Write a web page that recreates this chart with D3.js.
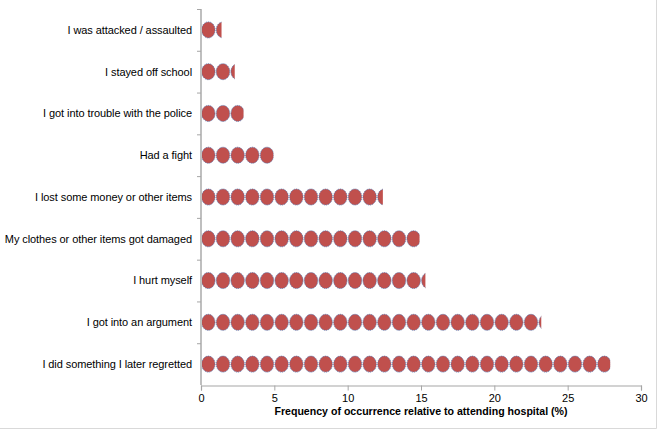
<!DOCTYPE html>
<html>
<head>
<meta charset="utf-8">
<script src="https://cdn.jsdelivr.net/npm/d3@7"></script>
<style>
  body { margin: 0; background: #fff; }
  svg { display: block; font-family: "Liberation Sans", Arial, sans-serif; }
</style>
</head>
<body>
<div id="chart"></div>
<script>
// Categories top to bottom, values in %
const categories = [
  'I was attacked / assaulted',
  'I stayed off school',
  'I got into trouble with the police',
  'Had a fight',
  'I lost some money or other items',
  'My clothes or other items got damaged',
  'I hurt myself',
  'I got into an argument',
  'I did something I later regretted'
];
const values = [1.4, 2.3, 2.9, 4.95, 12.4, 14.9, 15.3, 23.2, 27.9];
const xTicks = [0, 5, 10, 15, 20, 25, 30];
const xTitle = 'Frequency of occurrence relative to attending hospital (%)';

const width = 658;
const height = 430;
const margin = { top: 9, right: 17, bottom: 45, left: 201 };

const svg = d3.select('#chart')
  .append('svg')
  .attr('width', width)
  .attr('height', height);

// faint chart border (only right / bottom visible in the original)
svg.append('path')
  .attr('d', `M${width - 1.5},0V${height - 1.5}H0`)
  .attr('fill', 'none')
  .attr('stroke', '#d9d9d9');

const x = d3.scaleLinear()
  .domain([0, 30])
  .range([margin.left, width - margin.right]);

const y = d3.scaleBand()
  .domain(categories)
  .range([margin.top, height - margin.bottom]);

const unit = x(1) - x(0);

// Rows of icons, each icon = 1 %, last one clipped at the value
const defs = svg.append('defs');
const rows = svg.append('g');

categories.forEach((c, i) => {
  const v = values[i];
  const cy = y(c) + y.bandwidth() / 2;
  const id = 'clip' + i;
  defs.append('clipPath').attr('id', id)
    .append('rect')
    .attr('x', x(0))
    .attr('y', cy - 12)
    .attr('width', x(v) - x(0))
    .attr('height', 24);

  rows.append('g')
    .attr('clip-path', `url(#${id})`)
    .selectAll('ellipse')
    .data(d3.range(Math.ceil(v)))
    .join('ellipse')
    .attr('cx', d => x(d + 0.5))
    .attr('cy', cy)
    .attr('rx', unit / 2 - 0.6)
    .attr('ry', 8)
    .attr('fill', '#c0504d')
    .attr('stroke', '#4f6ea8')
    .attr('stroke-width', 0.8)
    .attr('stroke-dasharray', '1.2,0.8');
});

// X axis
const xAxis = svg.append('g')
  .attr('transform', `translate(0,${height - margin.bottom + 0.5})`)
  .call(d3.axisBottom(x).tickValues(xTicks).tickSize(5).tickPadding(4));
xAxis.select('.domain').attr('stroke', '#a6a6a6').attr('stroke-width', 1.2);
xAxis.selectAll('.tick line').attr('stroke', '#a6a6a6');
xAxis.selectAll('text').attr('font-size', '11px').attr('fill', '#000')
  .attr('font-family', '"Liberation Sans", Arial, sans-serif');

// Y axis (labels + small ticks between categories)
const yAxis = svg.append('g')
  .attr('transform', `translate(${margin.left},0)`);
yAxis.append('line')
  .attr('x1', 0).attr('x2', 0)
  .attr('y1', margin.top).attr('y2', height - margin.bottom)
  .attr('stroke', '#bfbfbf').attr('stroke-width', 2);
yAxis.selectAll('.ytick')
  .data(categories)
  .join('line')
  .attr('x1', -4).attr('x2', 0)
  .attr('y1', d => y(d) + 0.5)
  .attr('y2', d => y(d) + 0.5)
  .attr('stroke', '#a6a6a6');
yAxis.selectAll('.ylabel')
  .data(categories)
  .join('text')
  .attr('x', -9)
  .attr('y', d => y(d) + y.bandwidth() / 2)
  .attr('dy', '0.35em')
  .attr('text-anchor', 'end')
  .attr('font-size', '11px')
  .attr('fill', '#000')
  .style('letter-spacing', '-0.08px')
  .text(d => d);

// Axis title
svg.append('text')
  .attr('x', (x(0) + x(30)) / 2)
  .attr('y', height - 15)
  .attr('text-anchor', 'middle')
  .attr('font-size', '10.6px')
  .attr('font-weight', 'bold')
  .attr('fill', '#000')
  .text(xTitle);
</script>
</body>
</html>
